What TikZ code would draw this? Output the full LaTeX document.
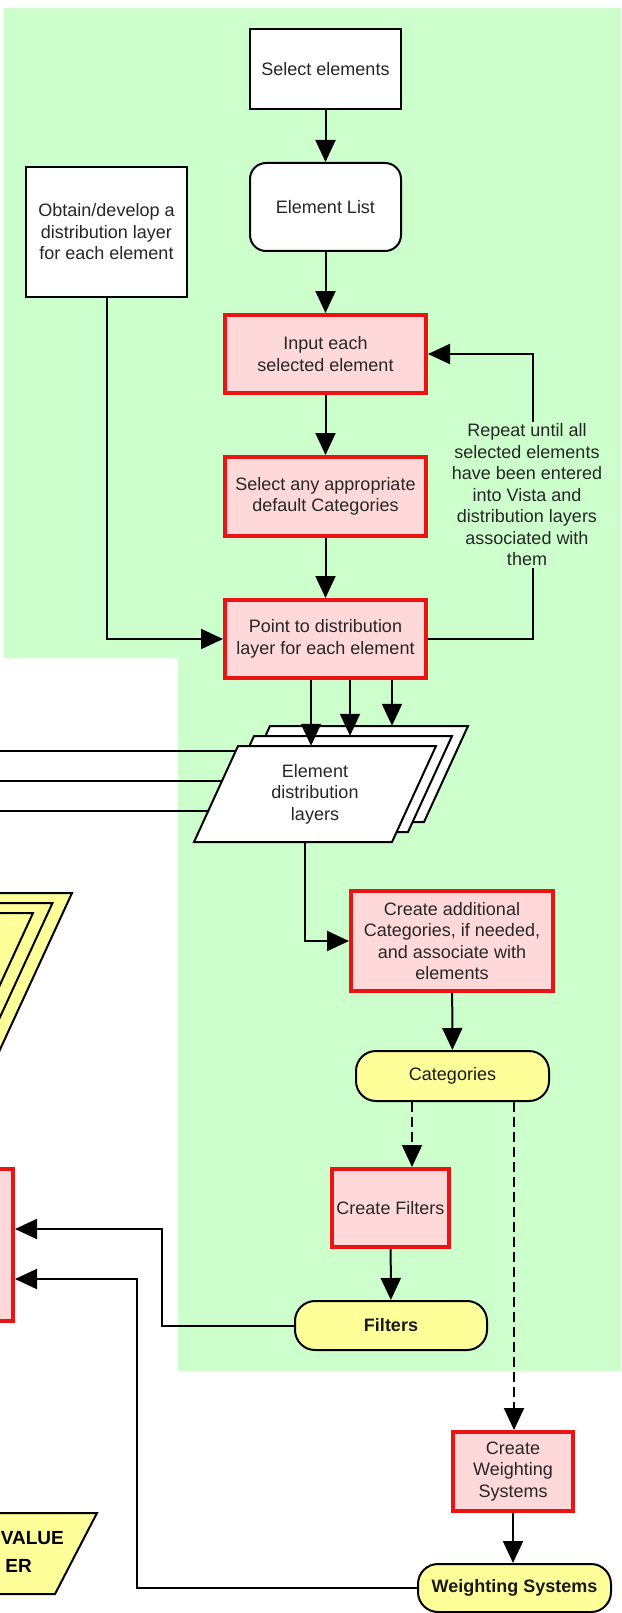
\documentclass[tikz,border=0pt]{standalone}
\usepackage{fontspec}
\setmainfont{Liberation Sans}
\usepackage{xcolor}
\usetikzlibrary{arrows.meta,positioning,calc}
\definecolor{bggreen}{RGB}{204,255,204}
\definecolor{procfill}{RGB}{255,217,217}
\definecolor{procred}{RGB}{235,20,20}
\definecolor{termyellow}{RGB}{255,255,153}

\begin{document}
\begin{tikzpicture}[x=1pt,y=-1pt,font=\fontsize{18}{21.5}\selectfont,
  box/.style={draw,line width=2pt,fill=white,align=center,text=black!85},
  proc/.style={draw=procred,line width=4pt,fill=procfill,align=center,text=black!85},
  term/.style={draw,line width=2pt,fill=termyellow,rounded corners=20pt,align=center,text=black!90},
  layer/.style={minimum width=242pt,minimum height=96pt,inner sep=0pt,align=center,text=black!85},
  slab/.pic={\filldraw[wire,fill=white] (-77,-48) -- (121,-48) -- (77,48) -- (-121,48) -- cycle;},
  arr/.style={line width=2pt,-{Triangle[length=22pt,width=20pt]}},
  dasharr/.style={arr,dash pattern=on 10pt off 5pt},
  wire/.style={line width=2pt}]
\useasboundingbox (0,0) rectangle (621,1613);
\clip (0,0) rectangle (621,1613);

% shaded work area
\fill[bggreen] (4,8) -- (621,8) -- (621,1371) -- (178,1371) -- (178,658) -- (4,658) -- cycle;

% pieces of the neighbouring flow on the left
\foreach \dx/\dy in {0/0,-19.5/10,-39/20}
  \filldraw[wire,fill=termyellow,shift={(\dx,\dy)}] (-300,893) -- (72,893) -- (-20,1093) -- (-300,1093) -- cycle;
\node[proc,minimum width=120pt,minimum height=152pt,anchor=east] (lbox) at (15,1245) {};
\filldraw[wire,fill=termyellow] (-300,1513) -- (97,1513) -- (55,1594) -- (-300,1594) -- cycle;
\node[font=\fontsize{19}{28}\selectfont\bfseries,anchor=east,inner sep=0pt] (vtxt1) at (64,1538) {VALUE};
\node[font=\fontsize{19}{28}\selectfont\bfseries,anchor=east,inner sep=0pt] (vtxt2) at (32,1566) {ER};

% main steps
\node[box,minimum width=151pt,minimum height=80pt] (sel) at (325.5,69) {Select elements};
\node[box,rounded corners=16pt,minimum width=151pt,minimum height=88pt] (elist) at (325.5,207) {Element List};
\node[box,minimum width=161pt,minimum height=130pt] (obtain) at (106.5,232) {Obtain/develop a\\distribution layer\\for each element};
\node[proc,minimum width=201pt,minimum height=78pt] (input) at (325.5,354) {Input each\\selected element};
\node[proc,minimum width=201pt,minimum height=79pt] (defcat) at (325.5,496.5) {Select any appropriate\\default Categories};
\node[proc,minimum width=201pt,minimum height=78pt] (point) at (325.5,639) {Point to distribution\\layer for each element};
\node[fill=bggreen,inner sep=2pt,align=center,text=black!85] (note) at (527,495) {Repeat until all\\selected elements\\have been entered\\into Vista and\\distribution layers\\associated with\\them};

% stack of layers
\pic at (347,774) {slab};
\node[layer] (dlb) at (347,774) {};
\pic at (331,784) {slab};
\node[layer] (dlm) at (331,784) {};
\pic at (315,794) {slab};
\node[layer] (dl) at (315,794) {Element\\distribution\\layers};

\node[proc,minimum width=202pt,minimum height=100pt] (addcat) at (452,941) {Create additional\\Categories, if needed,\\and associate with\\elements};
\node[term,minimum width=193pt,minimum height=50pt] (cat) at (452.5,1076) {Categories};
\node[proc,minimum width=117pt,minimum height=78pt] (cfil) at (390.5,1208) {Create Filters};
\node[term,minimum width=192pt,minimum height=49pt,font=\fontsize{18}{21.5}\selectfont\bfseries] (filt) at (391,1325.5) {Filters};
\node[proc,minimum width=120pt,minimum height=79pt] (cws) at (513,1471.5) {Create\\Weighting\\Systems};
\node[term,minimum width=193pt,minimum height=48pt,font=\fontsize{18}{21.5}\selectfont\bfseries] (ws) at (514.5,1588) {Weighting Systems};

% connectors
\draw[arr] (sel) -- (elist);
\draw[arr] (elist) -- (input);
\draw[arr] (input) -- (defcat);
\draw[arr] (defcat) -- (point);
\draw[arr] (obtain.south) |- (point.west);
\coordinate (lc) at (533,495);
\draw[wire] (point.east) -| (note.south -| lc);
\draw[arr] (note.north -| lc) |- (input.east);
\foreach \dx/\tgt in {-14.5/dl,24.5/dlm,66.5/dlb}
  \draw[arr] ([xshift=\dx pt]point.south) -- ([xshift=\dx pt]point.south |- \tgt.north);

\coordinate (edge) at (0,0);
\foreach \t [count=\i] in {0.05,0.365,0.68} {
  \coordinate (tap\i) at ($([xshift=44pt]dl.north west)!\t!(dl.south west)$);
  \draw[wire] (tap\i) -- (tap\i -| edge);
}

\draw[arr] ([xshift=-10pt]dl.south) |- (addcat.west);
\draw[arr] (addcat) -- (cat);
\draw[dasharr] ([xshift=-40.5pt]cat.south) -- ([xshift=-40.5pt]cat.south |- cfil.north);
\draw[dasharr] ([xshift=61.5pt]cat.south) -- ([xshift=61.5pt]cat.south |- cws.north);
\draw[arr] (cfil) -- (filt);
\draw[arr] (cws.south) -- (cws.south |- ws.north);
\coordinate (jf) at (162,1229);
\coordinate (jw) at (137,1279);
\draw[arr] (filt.west) -| (jf) -- (jf -| lbox.east);
\draw[arr] (ws.west) -| (jw) -- (jw -| lbox.east);
\end{tikzpicture}
\end{document}
